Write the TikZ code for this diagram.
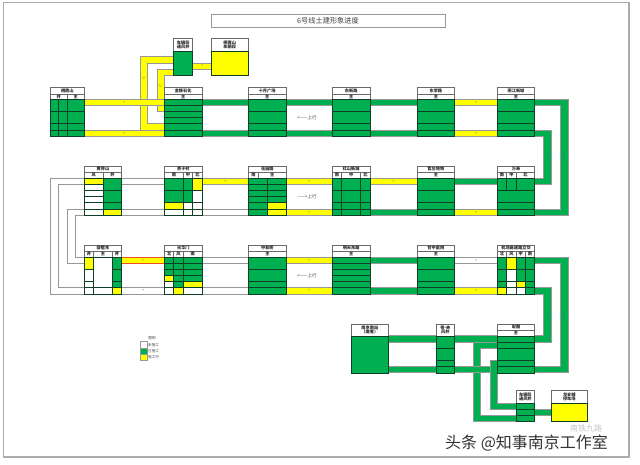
\documentclass[tikz,border=0pt]{standalone}
\usepackage{fontspec}
\setmainfont{Noto Sans CJK SC}
\definecolor{gn}{HTML}{00B050}
\definecolor{yl}{HTML}{FFFF00}
\definecolor{ln}{HTML}{0F3F26}
\definecolor{edge}{HTML}{989898}
\newcommand{\fsz}[1]{\fontsize{#1}{#1}\selectfont}
\tikzset{
  band/.style={draw=edge,line width=0.5pt,line join=miter},
  bandg/.style={band,fill=gn},
  bandy/.style={band,fill=yl},
  bandw/.style={band,fill=white},
  hdbox/.style={draw=edge!70!black,line width=0.7pt,fill=white,inner sep=0pt,font=\fsz{4.2}\bfseries,text=black!85},
  cellbox/.style={draw=ln,line width=0.55pt},
  chev/.style={inner sep=0pt,font=\fsz{3.6},text=black!60},
  note/.style={inner sep=0pt,font=\fsz{4.6},text=black!75},
  leg/.style={inner sep=0pt,font=\fsz{3.6},text=black!75,anchor=west}
}
\newcommand{\cel}[5]{\path[cellbox,fill=#5] (#1,#2) rectangle (#3,#4);}
\newcommand{\colm}[3]{\foreach \a/\b/\c in {#3}{\cel{#1}{\a}{#2}{\b}{\c}}}
\newcommand{\stbody}[5]{\cel{#1}{#3}{#2}{#4}{gn}\foreach \q in {#5}{\draw[cellbox] (#1,\q) -- (#2,\q);}}
\newcommand{\hd}[6]{\node[hdbox,rectangle,minimum width=#2pt-#1pt,minimum height=#4pt-#3pt,align=center] (#5) at ({(#1+#2)/2},{(#3+#4)/2}) {#6};}
\newcommand{\chv}[3]{\node[chev] at ({#1},{#2}) {#3};}
\begin{document}
\begin{tikzpicture}[x=1pt,y=-1pt]
\useasboundingbox (0,0) rectangle (640,464);
\fill[white] (0,0) rectangle (640,464);
\draw[gray!65,line width=1.3pt] (3.7,2.7) rectangle (629,457);
\node[draw=edge,line width=0.8pt,minimum width=234pt,minimum height=12.5pt,inner sep=0pt,font=\fsz{7.2},text=black!75] (title) at (328,20.8) {6号线土建形象进度};

% depot branch
\path[bandy] (173.7,56.7) -- (140.3,56.7) -- (140.3,130) -- (164.3,130) -- (164.3,123.3) -- (147.7,123.3) -- (147.7,63) -- (173.7,63) -- cycle;
\path[bandy] (173.7,69) -- (157,69) -- (157,111) -- (164.3,111) -- (164.3,75.3) -- (173.7,75.3) -- cycle;
\chv{143.9}{78}{∨}\chv{160.5}{86}{∨}
\path[bandy] (192.7,63.3) rectangle (211,69);
\chv{202}{66}{=}

% row 1 tracks
\foreach \xa/\xb/\s/\m in {84.3/164.3/bandy/>,202/248.3/bandg/<,286/332.3/bandg/<,370/417/bandg/<,454.7/497.3/bandy/>}{
  \path[\s] (\xa,99.5) rectangle (\xb,105.7);
  \path[\s] (\xa,130) rectangle (\xb,136);
  \chv{(\xa+\xb)/2}{102.6}{\m}\chv{(\xa+\xb)/2}{133}{\m}
}
% row 2 tracks
\foreach \xa/\xb/\s/\m in {121.7/164.7/bandw/{},202/248.7/bandy/<,286/332.3/bandy/<,370/417/bandy/>,454.7/497.3/bandg/<}{
  \path[\s] (\xa,178.3) rectangle (\xb,184.3);
  \chv{(\xa+\xb)/2}{181.3}{\m}
}
\foreach \xa/\xb/\s/\m in {121.7/164.7/bandw/{},202/248.7/bandw/{},286/332.3/bandy/<,370/417/bandg/>,454.7/497.3/bandy/<}{
  \path[\s] (\xa,209) rectangle (\xb,215);
  \chv{(\xa+\xb)/2}{212}{\m}
}
% row 3 tracks
\foreach \xa/\xb/\s/\m in {202/248.7/bandw/{},286/332.3/bandy/<,370/417/bandg/<,454.7/497.3/bandw/>}{
  \path[\s] (\xa,257.3) rectangle (\xb,263.3);
  \chv{(\xa+\xb)/2}{260.3}{\m}
}
\path[draw={rgb,255:red,235;green,80;blue,30},line width=1pt,fill=yl] (121.7,257.5) rectangle (164.7,263.1);
\chv{143}{260.3}{>}
\foreach \xa/\xb/\s/\m in {121.7/164.7/bandw/>,202/248.7/bandw/{},286/332.3/bandy/<,370/417/bandg/<,454.7/497.3/bandy/>}{
  \path[\s] (\xa,287.7) rectangle (\xb,294);
  \chv{(\xa+\xb)/2}{290.8}{\m}
}

% loops
\path[bandg] (534.7,99.5) -- (568,99.5) -- (568,215) -- (534.7,215) -- (534.7,209) -- (560.7,209) -- (560.7,105.7) -- (534.7,105.7) -- cycle;
\path[bandg] (534.7,130) -- (551.3,130) -- (551.3,184.3) -- (534.7,184.3) -- (534.7,178.3) -- (543.7,178.3) -- (543.7,136) -- (534.7,136) -- cycle;
\chv{547.5}{156}{∧}\chv{564.3}{156}{∧}
\path[bandw] (84.3,178.3) -- (50.7,178.3) -- (50.7,294) -- (84.3,294) -- (84.3,287.7) -- (58.3,287.7) -- (58.3,184.3) -- (84.3,184.3) -- cycle;
\path[bandw] (84.3,209) -- (67.3,209) -- (67.3,263.3) -- (84.3,263.3) -- (84.3,257.3) -- (75.3,257.3) -- (75.3,215) -- (84.3,215) -- cycle;
\path[bandg] (473.3,342) -- (473.3,421) -- (516,421) -- (516,415) -- (480.7,415) -- (480.7,348.3) -- (497.3,348.3) -- (497.3,342) -- cycle;
\path[bandg] (534.7,257.3) -- (568,257.3) -- (568,372.7) -- (388.7,372.7) -- (388.7,366.7) -- (560.7,366.7) -- (560.7,263.3) -- (534.7,263.3) -- cycle;
\path[bandg] (534.7,287.7) -- (551.3,287.7) -- (551.3,342) -- (388.7,342) -- (388.7,335.7) -- (543.7,335.7) -- (543.7,294) -- (534.7,294) -- cycle;
\path[bandg] (497.3,360.3) -- (490,360.3) -- (490,409.3) -- (516,409.3) -- (516,403.3) -- (497.3,403.3) -- cycle;
\path[bandg] (534.7,409.3) rectangle (551.3,415);
\chv{547.5}{318}{∧}\chv{564.3}{318}{∧}
\chv{412}{339}{>}\chv{412}{369.7}{>}\chv{493.7}{390}{∨}

% depot stations
\hd{173.7}{192.7}{38.3}{51}{dv}{车辆段\\通风井}
\cel{173.7}{51}{192.7}{75.3}{gn}
\hd{211}{248.3}{38.3}{51}{dp}{栖霞山\\车辆段}
\cel{211}{51}{248.3}{75.3}{yl}

% row 1 stations
\hd{50.3}{84.3}{87.3}{94}{a1}{栖霞山}
\hd{50.3}{67.3}{94}{99.5}{a1a}{井}\hd{67.3}{84.3}{94}{99.5}{a1b}{主}
\stbody{50.3}{84.3}{99.5}{136}{111,123.3,130}
\draw[cellbox] (58.3,99.5) -- (58.3,136) (67.3,99.5) -- (67.3,136);
\hd{164.3}{202}{87.3}{94}{a2}{金陵石化}\hd{164.3}{202}{94}{99.5}{a2a}{主}
\stbody{164.3}{202}{99.5}{136}{105.7,111,117.3,123.3,130}
\hd{248.3}{286}{87.3}{94}{a3}{十月广场}\hd{248.3}{286}{94}{99.5}{a3a}{主}
\stbody{248.3}{286}{99.5}{136}{111,123.3,130}
\hd{332.3}{370}{87.3}{94}{a4}{东新路}\hd{332.3}{370}{94}{99.5}{a4a}{主}
\stbody{332.3}{370}{99.5}{136}{111,123.3,130}
\hd{417}{454.7}{87.3}{94}{a5}{东李路}\hd{417}{454.7}{94}{99.5}{a5a}{主}
\stbody{417}{454.7}{99.5}{136}{111,123.3,130}
\hd{497.3}{534.7}{87.3}{94}{a6}{燕江新城}\hd{497.3}{534.7}{94}{99.5}{a6a}{主}
\stbody{497.3}{534.7}{99.5}{136}{111,123.3,130}
\node[note] (up1) at (307,118) {<——上行};

% row 2 stations
\hd{84.3}{121.7}{166.3}{172.3}{b1}{黄界山}
\hd{84.3}{103}{172.3}{178.3}{b1a}{风}\hd{103}{121.7}{172.3}{178.3}{b1b}{井}
\colm{84.3}{103}{178.3/184.3/yl,184.3/190.7/white,190.7/196.7/white,196.7/202.7/white,202.7/209/white,209/215/white}
\stbody{103}{121.7}{178.3}{209}{190.7,202.7}
\cel{103}{209}{121.7}{215}{yl}
\hd{164.7}{202}{166.3}{172.3}{b2}{贾子村}
\hd{164.7}{183.3}{172.3}{178.3}{b2a}{南}\hd{183.3}{192.7}{172.3}{178.3}{b2b}{中}\hd{192.7}{202}{172.3}{178.3}{b2c}{北}
\stbody{164.7}{183.3}{178.3}{202.7}{190.7}
\colm{164.7}{183.3}{202.7/209/yl,209/215/white}
\stbody{183.3}{192.7}{178.3}{202.7}{190.7}
\colm{183.3}{192.7}{202.7/209/white,209/215/white}
\colm{192.7}{202}{178.3/190.7/yl,190.7/202.7/white,202.7/209/white,209/215/white}
\hd{248.7}{286}{166.3}{172.3}{b3}{花园路}
\hd{248.7}{258.3}{172.3}{178.3}{b3a}{南}\hd{258.3}{286}{172.3}{178.3}{b3b}{主}
\stbody{248.7}{286}{178.3}{215}{184.3,190.7,196.7,202.7,209}
\draw[cellbox] (267.7,178.3) -- (267.7,215);
\colm{267.7}{286}{202.7/209/yl,209/215/yl}
\hd{332.3}{370}{166.3}{172.3}{b4}{红山新城}
\hd{332.3}{341.7}{172.3}{178.3}{b4a}{南}\hd{341.7}{360.7}{172.3}{178.3}{b4b}{中}\hd{360.7}{370}{172.3}{178.3}{b4c}{北}
\stbody{332.3}{370}{178.3}{215}{190.7,202.7,209}
\draw[cellbox] (341.7,178.3) -- (341.7,215) (360.7,178.3) -- (360.7,215);
\hd{417}{454.7}{166.3}{172.3}{b5}{官庄地铁}\hd{417}{454.7}{172.3}{178.3}{b5a}{主}
\stbody{417}{454.7}{178.3}{215}{190.7,202.7,209}
\hd{497.3}{534.7}{166.3}{172.3}{b6}{万寿}
\hd{497.3}{506.7}{172.3}{178.3}{b6a}{南}\hd{506.7}{516.3}{172.3}{178.3}{b6b}{中}\hd{516.3}{534.7}{172.3}{178.3}{b6c}{北}
\stbody{497.3}{534.7}{178.3}{215}{190.7,202.7,209}
\draw[cellbox] (506.7,178.3) -- (506.7,190.7) (516.3,178.3) -- (516.3,190.7);
\node[note] (up2) at (307,197) {——>上行};

% row 3 stations
\hd{84.3}{121.7}{245}{251}{c1}{邵墅东}
\hd{84.3}{93.7}{251}{257.3}{c1a}{井}\hd{93.7}{112.3}{251}{257.3}{c1b}{主}\hd{112.3}{121.7}{251}{257.3}{c1c}{井}
\colm{84.3}{93.7}{257.3/269.7/yl,269.7/281.7/white,281.7/287.7/white,287.7/294/white}
\colm{93.7}{112.3}{257.3/287.7/white,287.7/294/white}
\stbody{112.3}{121.7}{257.3}{287.7}{269.7,281.7}
\cel{112.3}{287.7}{121.7}{294}{yl}
\hd{164.7}{202}{245}{251}{c2}{光华门}
\hd{164.7}{173.7}{251}{257.3}{c2a}{北}\hd{173.7}{183.3}{251}{257.3}{c2b}{风}\hd{183.3}{202}{251}{257.3}{c2c}{南}
\stbody{164.7}{173.7}{257.3}{275.7}{263.3,269.7}
\colm{164.7}{173.7}{275.7/281.7/yl,281.7/287.7/white,287.7/294/white}
\stbody{173.7}{183.3}{257.3}{287.7}{263.3,269.7,275.7,281.7}
\cel{173.7}{287.7}{183.3}{294}{yl}
\stbody{183.3}{202}{257.3}{281.7}{263.3,269.7,275.7}
\colm{183.3}{202}{281.7/287.7/yl,287.7/294/white}
\hd{248.7}{286}{245}{251}{c3}{中和桥}\hd{248.7}{286}{251}{257.3}{c3a}{主}
\stbody{248.7}{286}{257.3}{294}{269.7,281.7,287.7}
\hd{332.3}{370}{245}{251}{c4}{明天东路}\hd{332.3}{370}{251}{257.3}{c4a}{主}
\stbody{332.3}{370}{257.3}{294}{263.3,269.7,275.7,281.7,287.7}
\hd{417}{454.7}{245}{251}{c5}{甘中医院}\hd{417}{454.7}{251}{257.3}{c5a}{主}
\stbody{417}{454.7}{257.3}{294}{269.7,281.7,287.7}
\hd{497.3}{534.7}{245}{251}{c6}{机场高速路立交}
\hd{497.3}{506.7}{251}{257.3}{c6a}{北}\hd{506.7}{516.3}{251}{257.3}{c6b}{风}\hd{516.3}{525.3}{251}{257.3}{c6c}{中}\hd{525.3}{534.7}{251}{257.3}{c6d}{南}
\stbody{497.3}{506.7}{257.3}{287.7}{269.7,281.7}
\cel{497.3}{287.7}{506.7}{294}{yl}
\colm{506.7}{516.3}{257.3/269.7/yl,269.7/281.7/white,281.7/287.7/white,287.7/294/white}
\stbody{516.3}{525.3}{257.3}{281.7}{269.7}
\colm{516.3}{525.3}{281.7/287.7/yl,287.7/294/white}
\stbody{525.3}{534.7}{257.3}{294}{269.7,281.7,287.7}
\node[note] (up3) at (307,275.5) {<——上行};

% row 4 stations
\hd{351}{388.7}{324}{336}{d1}{南京南站\\（魔者）}
\cel{351}{336}{388.7}{373}{gn}
\hd{436}{454.7}{324}{336}{d2}{带-夹\\风井}
\stbody{436}{454.7}{336}{373}{348.3,360.3,366.7}
\hd{497.3}{534.7}{324}{330.5}{d3}{宏图}\hd{497.3}{534.7}{330.5}{336}{d3a}{主}
\stbody{497.3}{534.7}{336}{373}{342,348.3,360.3,366.7}
\hd{516}{534.7}{390.7}{403.3}{d4}{车辆段\\通风井}
\stbody{516}{534.7}{403.3}{421}{409.3,415}
\hd{551.3}{587.3}{390.7}{403.3}{d5}{龙支辅\\停车场}
\cel{551.3}{403.3}{587.3}{421}{yl}

% legend
\node[note,font=\fsz{3.6}] (lg) at (152,338) {图例};
\draw[edge,line width=0.6pt,fill=white] (140,341.7) rectangle (147,348);
\draw[edge,line width=0.6pt,fill=gn] (140,348) rectangle (147,354);
\draw[edge,line width=0.6pt,fill=yl] (140,354) rectangle (147,360);
\node[leg] (lg1) at (148,344.8) {未施工};
\node[leg] (lg2) at (148,351) {已施工};
\node[leg] (lg3) at (148,357) {施工中};

% watermark
\node[inner sep=0pt,font=\fsz{8},text=gray!45,anchor=west] (wm2) at (570,428.5) {南铁九路};
\node[inner sep=0pt,font=\fsz{16},text=black!80,anchor=west] (wm) at (445,443) {头条 @知事南京工作室};
\end{tikzpicture}
\end{document}
